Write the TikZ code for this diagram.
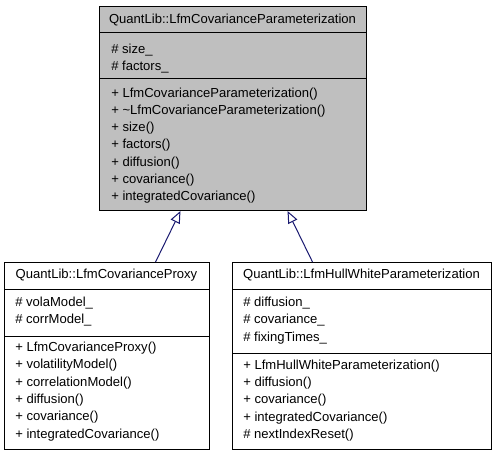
\documentclass[tikz,border=0pt]{standalone}
\usepackage{fontspec}
\setmainfont{Liberation Sans}
\usetikzlibrary{arrows.meta,positioning}
\definecolor{dxGrey}{HTML}{BFBFBF}
\definecolor{dxEdge}{HTML}{191970}

\begin{document}
\begin{tikzpicture}[x=0.75pt,y=-0.75pt,font=\fontsize{9.8}{11}\selectfont,
      cls/.style={draw=black,line width=0.75pt,anchor=north west,inner sep=0pt},
      hd/.style={inner sep=0pt},
      mem/.style={anchor=west,inner sep=0pt},
      sep/.style={line width=0.75pt},
      inh/.style={draw=dxEdge,line width=0.75pt,
                  -{Triangle[open,length=9pt,width=7.5pt]}}]

    \useasboundingbox (0,0) rectangle (496,456);

    % base class
    \node[cls,fill=dxGrey,minimum width=200.25pt,minimum height=153pt] (base) at (99,6) {};
    \node[hd] (base-t) at (232.5,20) {QuantLib::LfmCovarianceParameterization};
    \draw[sep] (99,33) -- (366,33);
    \draw[sep] (99,79) -- (366,79);
    \foreach \m [count=\i from 0] in {\# size\_,\# factors\_}
      \node[mem] (base-a\i) at (111,{50+17.2*\i}) {\m};
    \foreach \m [count=\i from 0] in {+ LfmCovarianceParameterization(),
        + \textasciitilde LfmCovarianceParameterization(),+ size(),+ factors(),
        + diffusion(),+ covariance(),+ integratedCovariance()}
      \node[mem] (base-m\i) at (111,{94+17.2*\i}) {\m};

    % proxy
    \node[cls,fill=white,minimum width=153.75pt,minimum height=140.25pt] (proxy) at (4,262) {};
    \node[hd] (proxy-t) at (106.5,275) {QuantLib::LfmCovarianceProxy};
    \draw[sep] (4,289) -- (209,289);
    \draw[sep] (4,336) -- (209,336);
    \foreach \m [count=\i from 0] in {\# volaModel\_,\# corrModel\_}
      \node[mem] (proxy-a\i) at (15,{303+17.5*\i}) {\m};
    \foreach \m [count=\i from 0] in {+ LfmCovarianceProxy(),+ volatilityModel(),
        + correlationModel(),+ diffusion(),+ covariance(),+ integratedCovariance()}
      \node[mem] (proxy-m\i) at (15,{348+17.4*\i}) {\m};

    % hull-white
    \node[cls,fill=white,minimum width=194.25pt,minimum height=140.25pt] (hw) at (232,262) {};
    \node[hd] (hw-t) at (361.5,275) {QuantLib::LfmHullWhiteParameterization};
    \draw[sep] (232,289) -- (491,289);
    \draw[sep] (232,353) -- (491,353);
    \foreach \m [count=\i from 0] in {\# diffusion\_,\# covariance\_,\# fixingTimes\_}
      \node[mem] (hw-a\i) at (243,{303+17.5*\i}) {\m};
    \foreach \m [count=\i from 0] in {+ LfmHullWhiteParameterization(),+ diffusion(),
        + covariance(),+ integratedCovariance(),\# nextIndexReset()}
      \node[mem] (hw-m\i) at (243,{366+17.25*\i}) {\m};

    \draw[inh] ([xshift=36.4pt]proxy.north) -- ([xshift=-39.4pt]base.south);
    \draw[inh] ([xshift=-37.1pt]hw.north) -- ([xshift=40.9pt]base.south);
  \end{tikzpicture}
\end{document}
